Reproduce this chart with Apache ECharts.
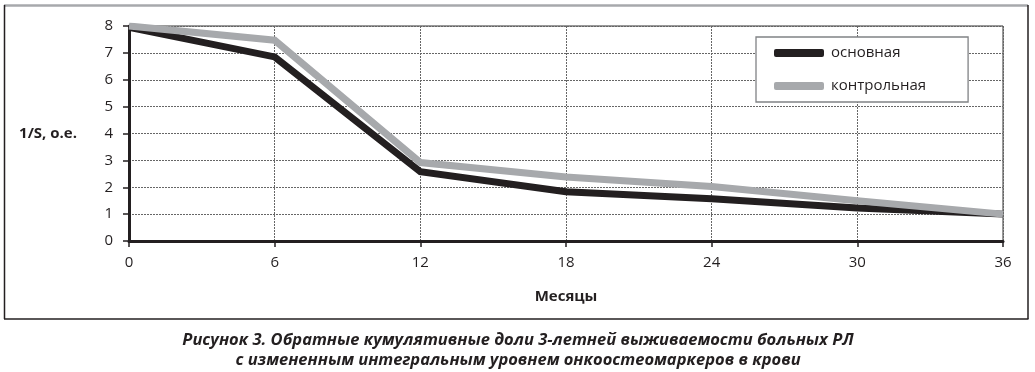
<!DOCTYPE html>
<html><head><meta charset="utf-8">
<script src="https://cdn.jsdelivr.net/npm/echarts@6/dist/echarts.min.js"></script>
<style>html,body{margin:0;padding:0;background:#fff}#c{width:1035px;height:372px}</style>
</head><body><div id="c"></div>
<script>
const months = [0, 6, 12, 18, 24, 30, 36];
const mainValues = [7.95, 6.85, 2.58, 1.83, 1.57, 1.23, 1.0];
const controlValues = [8.0, 7.47, 2.92, 2.38, 2.03, 1.5, 1.0];
const seriesNames = ['основная', 'контрольная'];
const yName = '1/S, о.е.';
const xName = 'Месяцы';
const caption1 = 'Рисунок 3. Обратные кумулятивные доли 3-летней выживаемости больных РЛ';
const caption2 = 'с измененным интегральным уровнем онкоостеомаркеров в крови';

const toPairs = v => months.map((m, i) => [m, v[i]]);
const font = '"Open Sans", "Noto Sans", sans-serif';
const chart = echarts.init(document.getElementById('c'), null, {renderer: 'canvas'});
chart.setOption({
  animation: false,
  grid: {left: 129, right: 32, top: 26, bottom: 131, show: true, borderColor: '#333', borderWidth: 1},
  legend: {
    orient: 'vertical', left: 756, top: 37,
    padding: [8, 42, 8, 18], itemGap: 17,
    itemWidth: 50, itemHeight: 8,
    borderColor: '#808285', borderWidth: 1.3, backgroundColor: '#fff',
    textStyle: {fontFamily: font, fontSize: 15, color: '#231f20', lineHeight: 16, padding: [0,0,0,2]},
    data: [
      {name: seriesNames[0], icon: 'roundRect', itemStyle: {color: '#231f20'}},
      {name: seriesNames[1], icon: 'roundRect', itemStyle: {color: '#a7a9ac'}}
    ]
  },
  xAxis: {
    type: 'value', min: 0, max: 36, interval: 6,
    name: xName, nameLocation: 'middle', nameGap: 48,
    nameTextStyle: {fontFamily: font, fontSize: 15, fontWeight: 'bold', color: '#231f20'},
    axisLine: {show: true, lineStyle: {color: '#231f20', width: 3}},
    axisTick: {show: true, length: 6, lineStyle: {color: '#231f20', width: 1.5}},
    axisLabel: {fontFamily: font, fontSize: 15, color: '#231f20', margin: 14},
    splitLine: {show: true, lineStyle: {color: '#666', type: [2, 1], width: 1}}
  },
  yAxis: {
    type: 'value', min: 0, max: 8, interval: 1,
    name: yName, nameLocation: 'middle', nameRotate: 0, nameGap: 52,
    nameTextStyle: {fontFamily: font, fontSize: 15, fontWeight: 'bold', color: '#231f20', align: 'right'},
    axisLine: {show: true, lineStyle: {color: '#231f20', width: 3}},
    axisTick: {show: true, length: 6, lineStyle: {color: '#231f20', width: 1.5}},
    axisLabel: {fontFamily: font, fontSize: 15, color: '#231f20', margin: 16},
    splitLine: {show: true, lineStyle: {color: '#666', type: [2, 1], width: 1}}
  },
  series: [
    {name: seriesNames[0], type: 'line', data: toPairs(mainValues), symbol: 'none', z: 3,
     lineStyle: {color: '#231f20', width: 7, join: 'miter'}, itemStyle: {color: '#231f20'}},
    {name: seriesNames[1], type: 'line', data: toPairs(controlValues), symbol: 'none', z: 4,
     lineStyle: {color: '#a7a9ac', width: 7, join: 'miter'}, itemStyle: {color: '#a7a9ac'}}
  ],
  graphic: [
    {type: 'line', shape: {x1: 4, y1: 5.5, x2: 1028, y2: 5.5}, style: {stroke: '#a7a9ac', lineWidth: 2.5}},
    {type: 'line', shape: {x1: 4.5, y1: 5, x2: 4.5, y2: 319}, style: {stroke: '#231f20', lineWidth: 1.5}},
    {type: 'line', shape: {x1: 1028, y1: 5, x2: 1028, y2: 319}, style: {stroke: '#231f20', lineWidth: 1.5}},
    {type: 'line', shape: {x1: 4, y1: 319, x2: 1028.5, y2: 319}, style: {stroke: '#231f20', lineWidth: 1.5}},
    {type: 'text', x: 518, y: 330, style: {text: caption1 + '\n' + caption2, textAlign: 'center',
      font: 'italic bold 16.5px "Open Sans", sans-serif', fill: '#231f20', lineHeight: 20}}
  ]
});
</script></body></html>
